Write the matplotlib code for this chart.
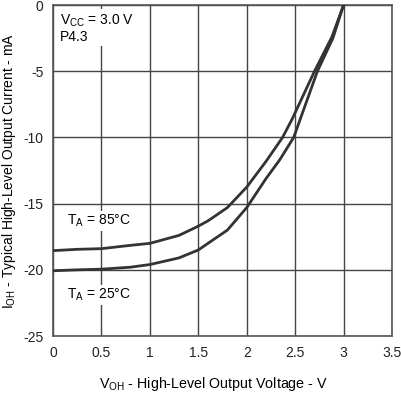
import matplotlib
matplotlib.use("Agg")
from matplotlib import pyplot as plt

plt.rcParams["font.family"] = ["Liberation Sans", "DejaVu Sans"]
plt.rcParams["mathtext.default"] = "regular"
plt.rcParams["axes.unicode_minus"] = False

# output voltage (V) and typical output current (mA)
v_85c = [0, 0.25, 0.5, 0.8, 1.0, 1.3, 1.5, 1.6, 1.8, 2.0, 2.2, 2.37, 2.47, 2.7, 2.88, 3.0]
i_85c = [-18.55, -18.45, -18.4, -18.15, -18.0, -17.4, -16.7, -16.3, -15.3, -13.75,
         -11.8, -10.0, -8.6, -5.0, -2.4, 0]
v_25c = [0, 0.25, 0.5, 0.8, 1.0, 1.3, 1.5, 1.8, 2.0, 2.2, 2.34, 2.485, 2.73, 2.89, 3.0]
i_25c = [-20.07, -20.0, -19.95, -19.8, -19.6, -19.1, -18.5, -17.0, -15.3, -13.1,
         -11.7, -10.0, -5.0, -2.5, 0]

xticks = [0, 0.5, 1, 1.5, 2, 2.5, 3, 3.5]
xlabels = ["0", "0.5", "1", "1.5", "2", "2.5", "3", "3.5"]
yticks = [0, -5, -10, -15, -20, -25]

fig = plt.figure(figsize=(4.02, 3.93), dpi=100)
ax = fig.add_axes([0.132, 0.145, 0.843, 0.842])

line_col = "#333333"
ax.plot(v_85c, i_85c, color=line_col, lw=2, zorder=3)
ax.plot(v_25c, i_25c, color=line_col, lw=2, zorder=3)

ax.set_xlim(0, 3.5)
ax.set_ylim(-25, 0)
ax.set_xticks(xticks)
ax.set_xticklabels(xlabels)
ax.set_yticks(yticks)
ax.grid(True, color="#444444", lw=1)
ax.tick_params(length=0, labelsize=10, pad=7, colors="#222222")
for s in ax.spines.values():
    s.set_color("#555555")
    s.set_linewidth(1.2)

box = dict(facecolor="white", edgecolor="none", pad=1.5)
ax.text(0.07, -0.55, "V$_{CC}$ = 3.0 V\nP4.3", fontsize=10, va="top", ha="left",
        bbox=box, zorder=2, linespacing=1.1)
ax.text(0.14, -16.3, "T$_A$ = 85°C", fontsize=10, va="center", ha="left", bbox=box, zorder=2)
ax.text(0.14, -21.9, "T$_A$ = 25°C", fontsize=10, va="center", ha="left", bbox=box, zorder=2)

ax.set_xlabel("V$_{OH}$ - High-Level Output Voltage - V", fontsize=10.3)
ax.xaxis.set_label_coords(0.472, -0.118)
ax.set_ylabel("I$_{OH}$ - Typical High-Level Output Current - mA", fontsize=10, labelpad=4)

fig.savefig("out.png", dpi=100)
